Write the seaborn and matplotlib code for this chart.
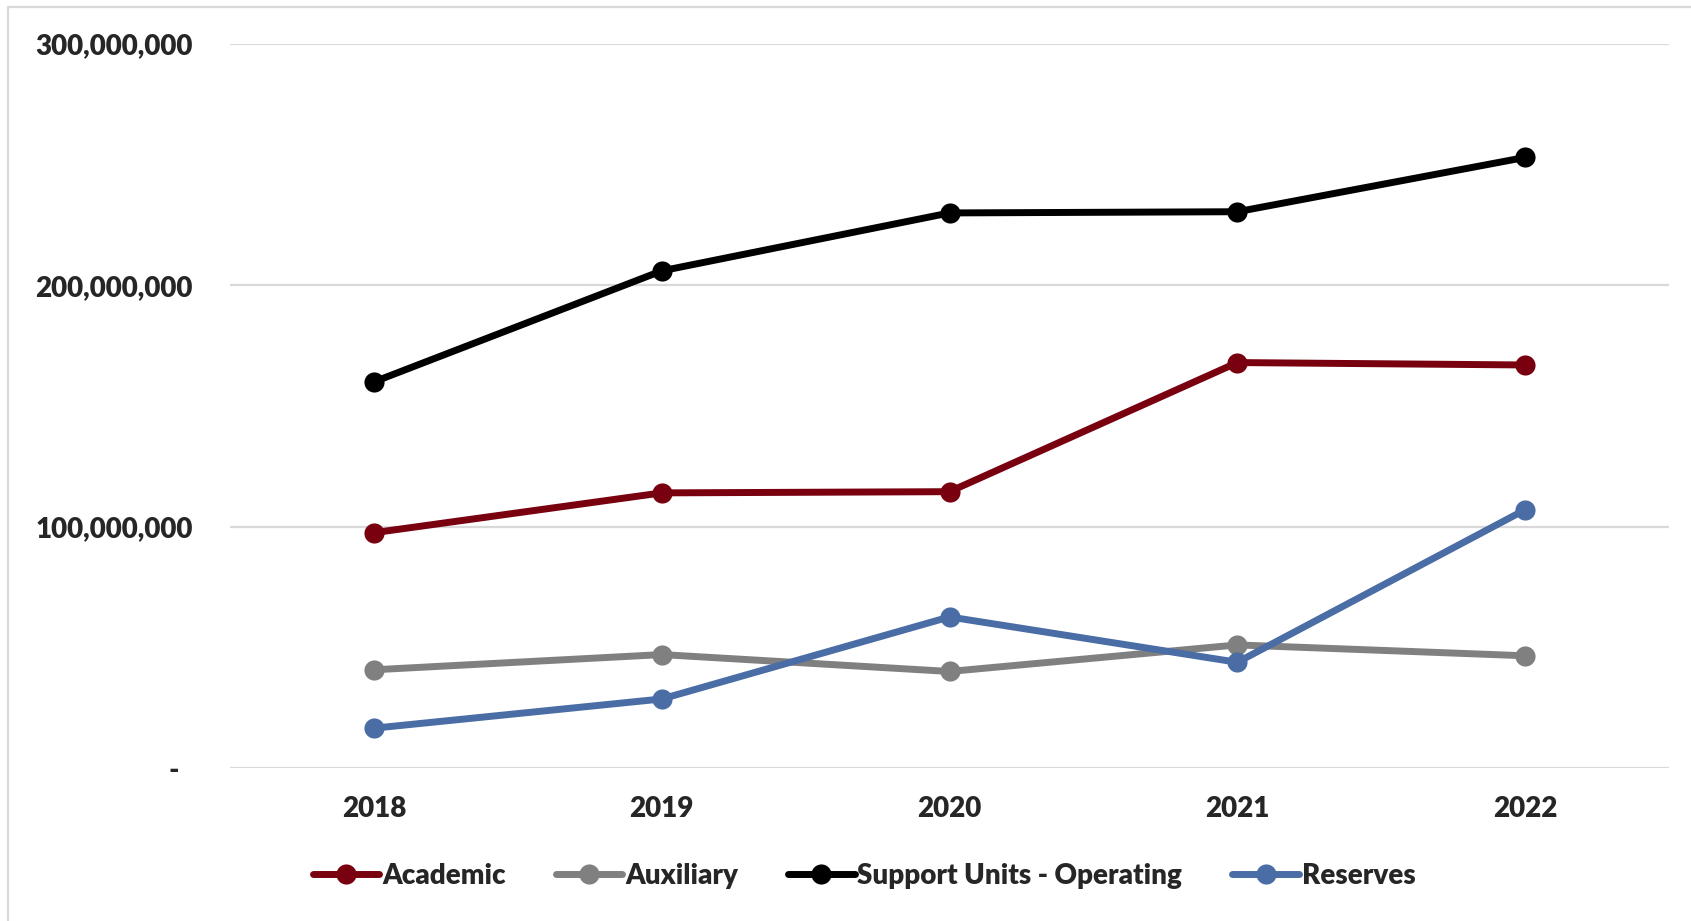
import pandas as pd
import numpy as np
import seaborn as sns
import matplotlib.pyplot as plt
from matplotlib.ticker import FuncFormatter
from matplotlib.patches import Rectangle

# chart values
years = ['2018', '2019', '2020', '2021', '2022']
academic = [97.5e6, 114e6, 114.5e6, 168e6, 167e6]
auxiliary = [40.7e6, 47e6, 40e6, 51e6, 46.5e6]
support_operating = [160e6, 206e6, 230e6, 230.5e6, 253e6]
reserves = [16.5e6, 28.6e6, 62.6e6, 43.8e6, 107e6]

series_names = ['Academic', 'Auxiliary', 'Support Units - Operating', 'Reserves']
colors = ['#78000F', '#808080', '#000000', '#4A6DA5']

df = pd.DataFrame({'Year': years,
                   'Academic': academic,
                   'Auxiliary': auxiliary,
                   'Support Units - Operating': support_operating,
                   'Reserves': reserves})
long_df = df.melt(id_vars='Year', var_name='Series', value_name='Amount')

sns.set_theme(style='white')
plt.rcParams['font.family'] = ['Lato', 'DejaVu Sans']
plt.rcParams['font.weight'] = 'heavy'

fig = plt.figure(figsize=(16.91, 9.21), dpi=100)
ax = fig.add_axes([230 / 1691, 1 - 768 / 921, (1669 - 230) / 1691, (768 - 44) / 921])

sns.lineplot(data=long_df, x='Year', y='Amount', hue='Series', hue_order=series_names,
             palette=colors, marker='o', markersize=14.5, markeredgewidth=0,
             linewidth=5, ax=ax, legend=True, sort=False)

ax.set_xlim(-0.5, len(years) - 0.5)
ax.set_ylim(0, 300e6)
ax.set_yticks([0, 100e6, 200e6, 300e6])
# accounting-style zero shows as a dash, set in from the right edge
ax.yaxis.set_major_formatter(FuncFormatter(lambda v, p: '-  ' if v == 0 else f'{v:,.0f}'))
ax.grid(axis='y', color='#d9d9d9', linewidth=1.6)
ax.grid(axis='x', visible=False)
ax.set_axisbelow(True)
for s in ax.spines.values():
    s.set_visible(False)
ax.set_xlabel('')
ax.set_ylabel('')
ax.tick_params(axis='y', length=0, pad=27, labelsize=20)
ax.tick_params(axis='x', length=0, pad=20, labelsize=20)
for lab in ax.get_xticklabels() + ax.get_yticklabels():
    lab.set_fontweight('heavy')

handles, labels = ax.get_legend_handles_labels()
ax.get_legend().remove()
fig.legend(handles, labels, loc='center', bbox_to_anchor=(864 / 1691, 1 - 876 / 921),
           ncol=4, frameon=False, handlelength=2.4, handletextpad=0.1,
           columnspacing=1.8, prop={'size': 20, 'weight': 'heavy'})

# outer chart frame
fig.patches.append(Rectangle((8 / 1691, -0.01), 1.05, 1 - 7 / 921 + 0.01,
                             transform=fig.transFigure, fill=False,
                             edgecolor='#d9d9d9', linewidth=1.6))

fig.savefig('out.png', dpi=100)
